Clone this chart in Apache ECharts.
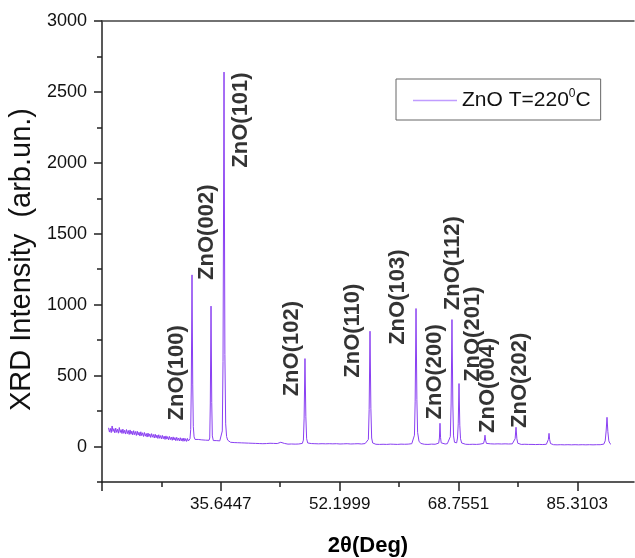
<!DOCTYPE html>
<html>
<head>
<meta charset="utf-8">
<script src="https://cdn.jsdelivr.net/npm/echarts@6/dist/echarts.min.js"></script>
<style>
html,body{margin:0;padding:0;background:#fff;}
#chart{width:635px;height:558px;}
</style>
</head>
<body>
<div id="chart"></div>
<script>
// ---- data ----
const seriesName = 'ZnO T=220°C';
const xTickValues = [19.0895, 35.6447, 52.1999, 68.7551, 85.3103];
const xTickLabels = [35.6447, 52.1999, 68.7551, 85.3103];
const xMinorTicks = [27.3671, 43.9223, 60.4775, 77.0327];
const yTickLabels = [0, 500, 1000, 1500, 2000, 2500, 3000];
const yMinorTicks = [-250, 250, 750, 1250, 1750, 2250, 2750];
const xRange = [19.0895, 93.21];
const yRange = [-250, 3000];

// 2theta (deg), intensity (arb. un.)
const xrd = [
[20.000,132],[20.125,102],[20.250,128],[20.375,98],[20.500,145],[20.625,106],[20.750,126],[20.875,96],
[21.000,130],[21.125,100],[21.250,122],[21.375,94],[21.500,134],[21.625,99],[21.750,119],[21.875,92],
[22.000,123],[22.125,93],[22.250,115],[22.375,88],[22.500,120],[22.625,91],[22.750,113],[22.875,85],
[23.000,117],[23.125,87],[23.250,109],[23.375,82],[23.500,112],[23.625,84],[23.750,106],[23.875,78],
[24.000,108],[24.125,81],[24.250,101],[24.375,74],[24.500,104],[24.625,77],[24.750,97],[24.875,71],
[25.000,99],[25.125,73],[25.250,92],[25.375,67],[25.500,95],[25.625,70],[25.750,89],[25.875,64],
[26.000,91],[26.125,66],[26.250,85],[26.375,60],[26.500,87],[26.625,62],[26.750,81],[26.875,57],
[27.000,83],[27.125,58],[27.250,77],[27.375,54],[27.500,79],[27.625,55],[27.750,73],[27.875,50],
[28.000,75],[28.125,52],[28.250,70],[28.375,47],[28.500,71],[28.625,49],[28.750,66],[28.875,44],
[29.000,68],[29.125,46],[29.250,63],[29.375,41],[29.500,65],[29.625,43],[29.750,60],[29.875,39],
[30.000,62],[30.125,40],[30.250,58],[30.375,37],[30.500,60],[30.625,38],[30.750,56],[30.875,36],
[31.000,57],[31.125,39],[31.250,50],
[31.35,55],[31.45,120],[31.53,420],[31.63,1210],[31.73,440],[31.81,140],[31.92,68],
[32.05,50],[32.25,40],[32.50,50],[32.75,36],[33.00,47],[33.25,34],[33.50,45],[33.75,35],[34.00,44],
[34.10,60],[34.18,300],[34.28,990],[34.38,310],[34.46,75],
[34.60,42],[34.75,32],[35.00,42],[35.25,30],[35.50,40],
[35.70,45],[35.85,110],[35.95,600],[36.09,2640],[36.21,650],[36.32,160],[36.45,70],
[36.60,45],[36.80,34],[37.00,30],[37.25,33],[37.50,28],[37.75,31],[38.00,27],[38.25,30],
[38.50,26],[38.75,29],[39.00,25],[39.25,28],[39.50,24],[39.75,27],[40.00,23],[40.25,26],
[40.50,22],[40.75,25],[41.00,21],[41.25,24],[41.50,20],[41.75,23],[42.00,21],[42.25,19],
[42.50,23],[42.75,20],[43.00,22],[43.25,18],[43.50,21],[43.75,22],[44.00,30],[44.25,19],
[44.50,22],[44.75,20],[45.00,17],[45.25,21],[45.50,18],[45.75,20],[46.00,17],[46.25,21],
[46.50,18],[46.75,20],[47.00,22],
[47.15,45],[47.25,200],[47.37,620],[47.49,210],[47.60,55],
[47.75,25],[48.00,18],[48.25,21],[48.50,16],[48.75,20],[49.00,17],[49.25,19],[49.50,15],
[49.75,20],[50.00,16],[50.25,19],[50.50,17],[50.75,20],[51.00,15],[51.25,19],[51.50,17],
[51.75,20],[52.00,16],[52.25,18],[52.50,15],[52.75,19],[53.00,17],[53.25,20],[53.50,16],
[53.75,18],[54.00,15],[54.25,19],[54.50,17],[54.75,20],[55.00,16],[55.25,18],[55.50,17],
[55.75,21],[56.00,22],
[56.20,50],[56.31,260],[56.43,813],[56.55,270],[56.66,60],
[56.80,25],[57.00,18],[57.25,16],[57.50,19],[57.75,15],[58.00,18],[58.25,16],[58.50,19],
[58.75,15],[59.00,18],[59.25,17],[59.50,20],[59.75,16],[60.00,18],[60.25,15],[60.50,19],
[60.75,17],[61.00,20],[61.25,16],[61.50,18],[61.75,17],[62.00,19],[62.25,20],
[62.45,30],[62.62,80],[62.72,320],[62.84,973],[62.96,330],[63.06,100],[63.25,38],
[63.50,22],[63.75,18],[64.00,16],[64.25,19],[64.50,15],[64.75,18],[65.00,17],[65.25,19],
[65.50,16],[65.75,20],[66.00,24],
[66.10,60],[66.18,164],[66.26,62],[66.35,26],
[66.60,20],[66.90,18],[67.20,20],[67.45,26],
[67.62,70],[67.73,300],[67.85,895],[67.97,300],[68.07,75],[68.20,30],[68.35,22],
[68.50,26],[68.62,60],[68.72,160],[68.83,444],[68.94,150],[69.04,55],[69.20,25],
[69.45,18],[69.75,16],[70.00,19],[70.25,15],[70.50,18],[70.75,16],[71.00,19],[71.25,15],
[71.50,18],[71.75,17],[72.00,19],[72.25,22],
[72.37,45],[72.45,80],[72.53,45],[72.65,22],
[72.90,17],[73.25,19],[73.50,15],[73.75,18],[74.00,16],[74.25,19],[74.50,15],[74.75,18],
[75.00,16],[75.25,19],[75.50,15],[75.75,18],[76.00,17],[76.25,19],[76.50,24],
[76.65,55],[76.77,136],[76.89,55],[77.02,23],
[77.25,18],[77.50,15],[77.75,18],[78.00,16],[78.25,19],[78.50,15],[78.75,17],[79.00,15],
[79.25,18],[79.50,14],[79.75,17],[80.00,15],[80.25,18],[80.50,14],[80.75,17],[81.00,16],
[81.15,22],[81.28,50],[81.37,93],[81.46,48],[81.58,21],
[81.80,15],[82.00,13],[82.25,16],[82.50,12],[82.75,15],[83.00,13],[83.25,16],[83.50,12],
[83.75,15],[84.00,13],[84.25,16],[84.50,12],[84.75,15],[85.00,13],[85.25,16],[85.50,12],
[85.75,15],[86.00,13],[86.25,16],[86.50,12],[86.75,15],[87.00,13],[87.25,16],[87.50,12],
[87.75,15],[88.00,13],[88.25,16],[88.50,13],[88.75,15],[89.00,17],
[89.20,40],[89.33,110],[89.45,206],[89.57,105],[89.70,40],[89.85,22],[90.00,16]
];

// peak labels: text, 2theta, intensity (label centre)
const peakLabels = ['ZnO(100)','ZnO(002)','ZnO(101)','ZnO(102)','ZnO(110)','ZnO(103)','ZnO(200)','ZnO(112)','ZnO(201)','ZnO(004)','ZnO(202)'];
const peakLabelX = [29.54, 33.72, 38.46, 45.56, 54.06, 60.33, 65.48, 67.99, 70.78, 72.87, 77.33];
const peakLabelY = [520, 1511, 2302, 690, 817, 1053, 527, 1293, 792, 432, 467];

// ---- chart ----
const FONT = '"Liberation Sans", Arial, sans-serif';
const AX = '#222';
const chart = echarts.init(document.getElementById('chart'), null, {renderer: 'canvas'});

const gridBox = {left: 102, top: 21, right: 1, bottom: 76, containLabel: false, outerBoundsMode: 'none'};

chart.setOption({
  animation: false,
  backgroundColor: '#fff',
  grid: [Object.assign({}, gridBox), Object.assign({}, gridBox)],
  legend: {
    data: [{name: seriesName, icon: 'rect'}],
    left: 396, top: 79,
    orient: 'horizontal',
    padding: [9, 10, 9, 17],
    itemWidth: 44, itemHeight: 1.5, itemGap: 5,
    borderColor: '#666', borderWidth: 1,
    backgroundColor: '#fff',
    itemStyle: {color: '#c09cff'},
    formatter: () => '{a|ZnO T=220}{s|0}{a|C}',
    textStyle: {
      color: '#111', fontFamily: FONT, fontSize: 21,
      rich: {
        a: {fontSize: 21, fontFamily: FONT, color: '#111', lineHeight: 25},
        s: {fontSize: 12, fontFamily: FONT, color: '#111', verticalAlign: 'top', lineHeight: 25}
      }
    }
  },
  xAxis: [
    {
      gridIndex: 0, type: 'value', position: 'bottom',
      min: xRange[0], max: xRange[1],
      name: '2θ(Deg)', nameLocation: 'middle', nameGap: 53,
      nameTextStyle: {fontFamily: FONT, fontSize: 22, fontWeight: 'bold', color: '#000'},
      axisLine: {show: true, onZero: false, lineStyle: {color: AX, width: 1.5}},
      axisTick: {show: true, inside: false, length: 9, customValues: xTickValues, lineStyle: {color: AX, width: 1.5}},
      axisLabel: {show: true, margin: 14, customValues: xTickLabels, fontFamily: FONT, fontSize: 17, color: '#111',
        formatter: v => String(v)},
      splitLine: {show: false}
    },
    {
      gridIndex: 0, type: 'value', position: 'top',
      min: xRange[0], max: xRange[1],
      axisLine: {show: true, onZero: false, lineStyle: {color: '#444', width: 1.5}},
      axisTick: {show: false}, axisLabel: {show: false}, splitLine: {show: false}
    },
    {
      gridIndex: 1, type: 'value', position: 'bottom',
      min: xRange[0], max: xRange[1],
      axisLine: {show: false, onZero: false},
      axisTick: {show: true, inside: false, length: 5, customValues: xMinorTicks, lineStyle: {color: AX, width: 1.5}},
      axisLabel: {show: false}, splitLine: {show: false}
    }
  ],
  yAxis: [
    {
      gridIndex: 0, type: 'value', position: 'left',
      min: yRange[0], max: yRange[1],
      name: 'XRD Intensity  (arb.un.)', nameLocation: 'middle', nameGap: 63, nameRotate: 90,
      nameTextStyle: {fontFamily: FONT, fontSize: 29, color: '#111', padding: [0, 16, 0, 0]},
      axisLine: {show: true, onZero: false, lineStyle: {color: AX, width: 1.5}},
      axisTick: {show: true, inside: false, length: 8, customValues: yTickLabels, lineStyle: {color: AX, width: 1.5}},
      axisLabel: {show: true, margin: 15, customValues: yTickLabels, fontFamily: FONT, fontSize: 18, color: '#111',
        formatter: v => String(v)},
      splitLine: {show: false}
    },
    {
      gridIndex: 1, type: 'value', position: 'left',
      min: yRange[0], max: yRange[1],
      axisLine: {show: false, onZero: false},
      axisTick: {show: true, inside: false, length: 5, customValues: yMinorTicks, lineStyle: {color: AX, width: 1.5}},
      axisLabel: {show: false}, splitLine: {show: false}
    }
  ],
  series: [
    {
      name: seriesName, type: 'line',
      xAxisIndex: 0, yAxisIndex: 0,
      data: xrd,
      symbol: 'none', showSymbol: false,
      sampling: null,
      lineStyle: {color: '#8a40f2', width: 1},
      itemStyle: {color: '#c09cff'},
      z: 3
    },
    {
      name: 'labels', type: 'scatter',
      xAxisIndex: 0, yAxisIndex: 0,
      symbolSize: 0, silent: true,
      data: peakLabels.map((t, i) => ({name: t, value: [peakLabelX[i], peakLabelY[i]]})),
      label: {
        show: true, position: 'inside', rotate: 90,
        formatter: p => p.name,
        fontFamily: FONT, fontSize: 22, fontWeight: 'bold', color: '#000'
      },
      z: 4
    }
  ]
});
</script>
</body>
</html>
